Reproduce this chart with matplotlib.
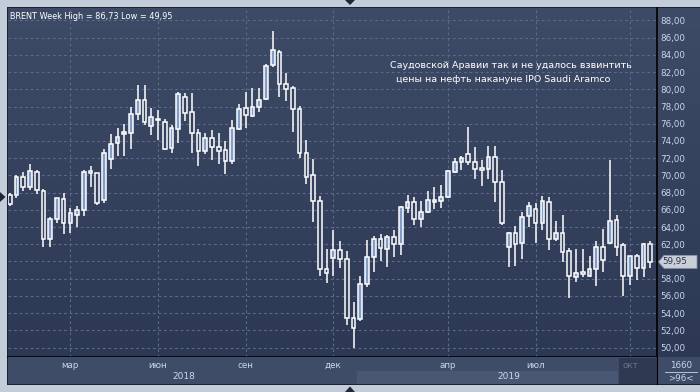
import numpy as np
import matplotlib
matplotlib.use("Agg")
import matplotlib.pyplot as plt
from matplotlib.patches import Rectangle, Polygon

# ---------------- data (weekly BRENT candles, Jan 2018 - Nov 2019) ----------------
opens = [67.70, 67.68, 69.77, 68.69, 70.36, 68.15, 62.57, 64.89, 67.22, 64.51,
         65.44, 65.94, 70.47, 70.24, 67.18, 71.87, 73.73, 74.81, 74.89, 77.10,
         78.72, 75.78, 76.59, 76.24, 73.15, 75.35, 79.07, 77.41, 74.89, 72.87,
         74.31, 73.26, 72.95, 71.71, 75.39, 77.79, 76.90, 77.99, 78.92, 82.80,
         84.30, 80.58, 80.12, 77.68, 72.56, 70.01, 67.06, 59.08, 60.36, 61.33,
         60.24, 53.39, 53.27, 57.34, 60.55, 62.57, 61.41, 62.80, 61.99, 66.25,
         66.87, 64.89, 65.71, 67.05, 67.00, 67.53, 70.43, 71.52, 72.45, 71.60,
         70.80, 70.70, 72.17, 69.19, 61.64, 63.27, 62.11, 65.32, 66.06, 64.43,
         66.87, 62.61, 63.27, 61.21, 58.23, 58.72, 58.35, 59.08, 61.72, 62.10,
         64.78, 61.91, 58.31, 60.59, 59.28, 61.99]
highs = [68.00, 70.05, 70.39, 71.36, 70.63, 68.38, 65.13, 67.40, 67.95, 66.17,
         66.44, 70.63, 71.09, 70.24, 73.07, 74.81, 75.47, 75.93, 77.99, 80.50,
         80.50, 77.79, 77.60, 76.60, 75.86, 79.73, 79.54, 79.54, 75.39, 74.89,
         75.28, 74.89, 74.00, 76.44, 78.30, 79.73, 80.12, 80.12, 82.95, 86.73,
         84.60, 81.86, 80.39, 78.06, 74.11, 71.91, 67.60, 61.45, 63.65, 62.37,
         61.21, 55.25, 58.31, 62.49, 62.96, 63.19, 63.07, 63.65, 66.40, 67.72,
         67.45, 67.02, 68.19, 68.61, 68.88, 70.60, 71.98, 72.29, 75.59, 73.26,
         71.79, 73.41, 73.41, 70.63, 63.46, 64.12, 65.78, 66.95, 66.75, 67.60,
         67.45, 64.74, 65.40, 61.52, 61.45, 61.45, 60.63, 62.41, 63.77, 71.79,
         65.40, 62.10, 60.63, 60.83, 62.18, 62.41]
lows = [66.50, 67.41, 68.19, 68.30, 67.88, 61.72, 61.72, 64.43, 63.15, 63.34,
        64.04, 65.32, 68.69, 66.60, 66.83, 70.78, 72.29, 72.29, 73.07, 76.44,
        75.86, 74.69, 74.11, 72.90, 72.56, 73.73, 76.36, 72.64, 71.09, 72.49,
        71.79, 71.32, 70.16, 71.32, 75.28, 75.47, 76.83, 77.41, 78.80, 82.56,
        79.14, 78.68, 75.08, 72.06, 69.00, 64.62, 58.35, 57.46, 58.35, 59.28,
        52.61, 49.95, 53.10, 57.07, 58.81, 60.09, 59.39, 60.55, 60.75, 65.59,
        64.24, 63.96, 65.59, 66.10, 66.25, 67.40, 70.24, 70.63, 71.21, 69.58,
        68.81, 69.58, 66.95, 64.24, 59.39, 59.51, 60.24, 63.99, 62.11, 63.65,
        61.33, 62.40, 59.97, 55.79, 57.65, 58.23, 58.23, 57.18, 58.73, 62.03,
        60.63, 56.02, 57.26, 57.84, 58.16, 59.28]
closes = [66.70, 69.81, 68.69, 70.47, 68.26, 62.57, 64.89, 67.33, 64.51, 65.59,
          65.94, 70.36, 70.24, 66.83, 72.56, 73.61, 74.42, 75.04, 77.10, 78.76,
          76.17, 76.75, 76.40, 73.03, 75.55, 79.42, 77.21, 74.89, 72.87, 74.31,
          73.34, 72.87, 71.71, 75.47, 77.68, 77.02, 77.99, 78.76, 82.71, 84.60,
          80.58, 80.00, 77.68, 72.56, 69.77, 67.06, 59.08, 58.62, 61.33, 60.24,
          53.39, 52.23, 57.34, 60.55, 62.57, 61.52, 62.80, 61.99, 66.37, 66.87,
          64.89, 65.71, 67.10, 67.08, 67.53, 70.51, 71.52, 71.98, 71.60, 70.74,
          70.76, 72.10, 69.19, 64.43, 63.27, 61.99, 65.20, 66.48, 64.43, 67.02,
          62.57, 63.27, 61.06, 58.35, 58.62, 58.68, 59.12, 61.72, 60.17, 64.70,
          61.72, 58.35, 60.59, 59.28, 61.99, 59.95]

title_text = "BRENT Week High = 86,73 Low = 49,95"
note_lines = ["Саудовской Аравии так и не удалось взвинтить",
              "цены на нефть накануне IPO Saudi Aramco"]
price_ticks = list(range(50, 89, 2))
month_labels = ["мар", "июн", "сен", "дек", "апр", "июл", "окт"]
month_index = [9, 22, 35, 48, 65, 78, 92]
year_labels = ["2018", "2019"]
last_price = "59,95"
bars_info = ["1660", ">96<"]

# ---------------- figure ----------------
W, H = 700, 392
fig = plt.figure(figsize=(W / 100, H / 100), dpi=100)
fig.patch.set_facecolor("#c3ccd9")

def fx(x):
    return x / W

def fy(y):
    return 1 - y / H

def rect_ax(x0, y0, x1, y1):
    return [fx(x0), fy(y1), fx(x1) - fx(x0), fy(y0) - fy(y1)]

TXT = "#c9d6ec"

# outer dark frame of the chart (background axes)
axf = fig.add_axes(rect_ax(7, 7, 700, 384.5), zorder=-5)
axf.set_facecolor("#1c2230")
axf.set_xticks([]); axf.set_yticks([])
for s in axf.spines.values():
    s.set_visible(False)

grad = np.linspace(0, 1, 256).reshape(-1, 1)
top_c = np.array([62, 75, 103]) / 255
bot_c = np.array([44, 56, 84]) / 255
img = top_c[None, None, :] * (1 - grad[:, :, None]) + bot_c[None, None, :] * grad[:, :, None]

# right panel background (behind tick labels)
L, R, T, B = 8, 657, 8, 357
axr = fig.add_axes(rect_ax(R, T, 700, B), zorder=-1)
axr.imshow(img, extent=[0, 1, 0, 1], aspect="auto")
axr.axis("off")

# main axes
ax = fig.add_axes(rect_ax(L, T, R, B), zorder=1)
n = len(opens)
xmin, xmax = -0.25, 96.0
ax.imshow(img, extent=[0, 1, 0, 1], transform=ax.transAxes, aspect="auto", zorder=0)
ax.set_xlim(xmin, xmax)
ax.set_ylim(48.9, 89.45)

# grid
for p in price_ticks:
    ax.axhline(p, color="#5b6a88", lw=0.8, ls=(0, (2.5, 2.5)), zorder=1)
for mi in month_index:
    ax.axvline(mi, color="#5b6a88", lw=0.8, ls=(0, (2.5, 2.5)), zorder=1)

# candles
bw = 0.55
for i in range(n):
    o, h, l, c = opens[i], highs[i], lows[i], closes[i]
    ax.plot([i, i], [l, h], color="white", lw=1.1, zorder=2, solid_capstyle="butt")
    lo, hi = min(o, c), max(o, c)
    if hi - lo < 0.15:
        lo, hi = (lo + hi) / 2 - 0.1, (lo + hi) / 2 + 0.1
    fc = "#819dc9" if c >= o else "#34405c"
    ax.add_patch(Rectangle((i - bw / 2, lo), bw, hi - lo, facecolor=fc,
                           edgecolor="white", lw=1.1, zorder=3))

ax.set_xticks([])
ax.yaxis.tick_right()
ax.set_yticks(price_ticks)
ax.set_yticklabels([f"{p},00" for p in price_ticks], fontsize=6.3, color=TXT,
                   family="DejaVu Sans")
ax.tick_params(axis="y", length=0, pad=2.5)
for s in ["top", "left"]:
    ax.spines[s].set_visible(False)
ax.spines["right"].set_color("black")
ax.spines["right"].set_linewidth(1.2)
ax.spines["bottom"].set_color("black")
ax.spines["bottom"].set_linewidth(1.2)

# title and note
ax.text(0.003, 0.988, title_text, transform=ax.transAxes, ha="left", va="top",
        fontsize=5.9, color="white", family="DejaVu Sans", zorder=5)
ax.text((511 - L) / (R - L), 1 - (65 - T) / (B - T), note_lines[0], transform=ax.transAxes,
        ha="center", va="center", fontsize=6.8, color="white", family="DejaVu Sans", zorder=5)
ax.text((503 - L) / (R - L), 1 - (80 - T) / (B - T), note_lines[1], transform=ax.transAxes,
        ha="center", va="center", fontsize=6.8, color="white", family="DejaVu Sans", zorder=5)

# last price marker
yl = 59.95
fig_y = fy(20.5 + (88 - yl) * 8.605)
h2 = 6.5 / H
poly = Polygon([(fx(658.5), fig_y), (fx(664), fig_y + h2), (fx(697), fig_y + h2),
                (fx(697), fig_y - h2), (fx(664), fig_y - h2)], closed=True,
               transform=fig.transFigure, facecolor="#c9ced8", edgecolor="#8a93a5",
               lw=0.6, zorder=10)
fig.patches.append(poly)
fig.text(fx(662), fig_y, last_price, ha="left", va="center", fontsize=6.3,
         color="#2b3552", family="DejaVu Sans", zorder=11)

# bottom axis panel
axb = fig.add_axes(rect_ax(L, B, R, 384), zorder=1)
axb.set_xlim(xmin, xmax)
axb.set_ylim(384, B)
axb.set_facecolor("#3f4c68")
axb.set_xticks([])
axb.set_yticks([])
for s in axb.spines.values():
    s.set_visible(False)

def px2i(px):
    return xmin + (px - L) / (R - L) * (xmax - xmin)

axb.add_patch(Rectangle((51.5, 371), px2i(618) - 51.5, 12.5, facecolor="#4a5774",
                        edgecolor="none", zorder=1))
axb.add_patch(Rectangle((px2i(619), 358), xmax - px2i(619), 26, facecolor="#2f3a52",
                        edgecolor="none", zorder=2))
for lab, mi in zip(month_labels, month_index):
    col = "#66728a" if lab == "окт" else TXT
    axb.text(mi, 365.5, lab, ha="center", va="center", fontsize=6.3, color=col,
             family="DejaVu Sans", zorder=3)
axb.text(px2i(184), 376.5, year_labels[0], ha="center", va="center", fontsize=6.5,
         color=TXT, family="DejaVu Sans", zorder=3)
axb.text(px2i(509), 376.5, year_labels[1], ha="center", va="center", fontsize=6.5,
         color=TXT, family="DejaVu Sans", zorder=3)

# bottom right box
axc = fig.add_axes(rect_ax(R, B, 700, 384), zorder=1)
axc.set_facecolor("#3f4c68")
axc.set_xlim(0, 1)
axc.set_ylim(1, 0)
axc.set_xticks([])
axc.set_yticks([])
for s in axc.spines.values():
    s.set_visible(False)
axc.spines["left"].set_visible(True)
axc.spines["left"].set_color("black")
axc.text(0.55, 0.32, bars_info[0], ha="center", va="center", fontsize=6.3, color=TXT,
         family="DejaVu Sans")
axc.plot([0.18, 0.92], [0.55, 0.55], color=TXT, lw=0.6)
axc.text(0.55, 0.78, bars_info[1], ha="center", va="center", fontsize=6.3, color=TXT,
         family="DejaVu Sans")

# UI triangles
tri_c = "#1f2636"
fig.patches.append(Polygon([(fx(345), fy(0)), (fx(355), fy(0)), (fx(350), fy(5))],
                           transform=fig.transFigure, facecolor=tri_c, edgecolor="none"))
fig.patches.append(Polygon([(fx(345), fy(392)), (fx(355), fy(392)), (fx(350), fy(386.5))],
                           transform=fig.transFigure, facecolor=tri_c, edgecolor="none"))
fig.patches.append(Polygon([(fx(0), fy(192)), (fx(0), fy(202)), (fx(5.5), fy(197))],
                           transform=fig.transFigure, facecolor=tri_c, edgecolor="none"))

fig.savefig("out.png", dpi=100, facecolor=fig.get_facecolor())
